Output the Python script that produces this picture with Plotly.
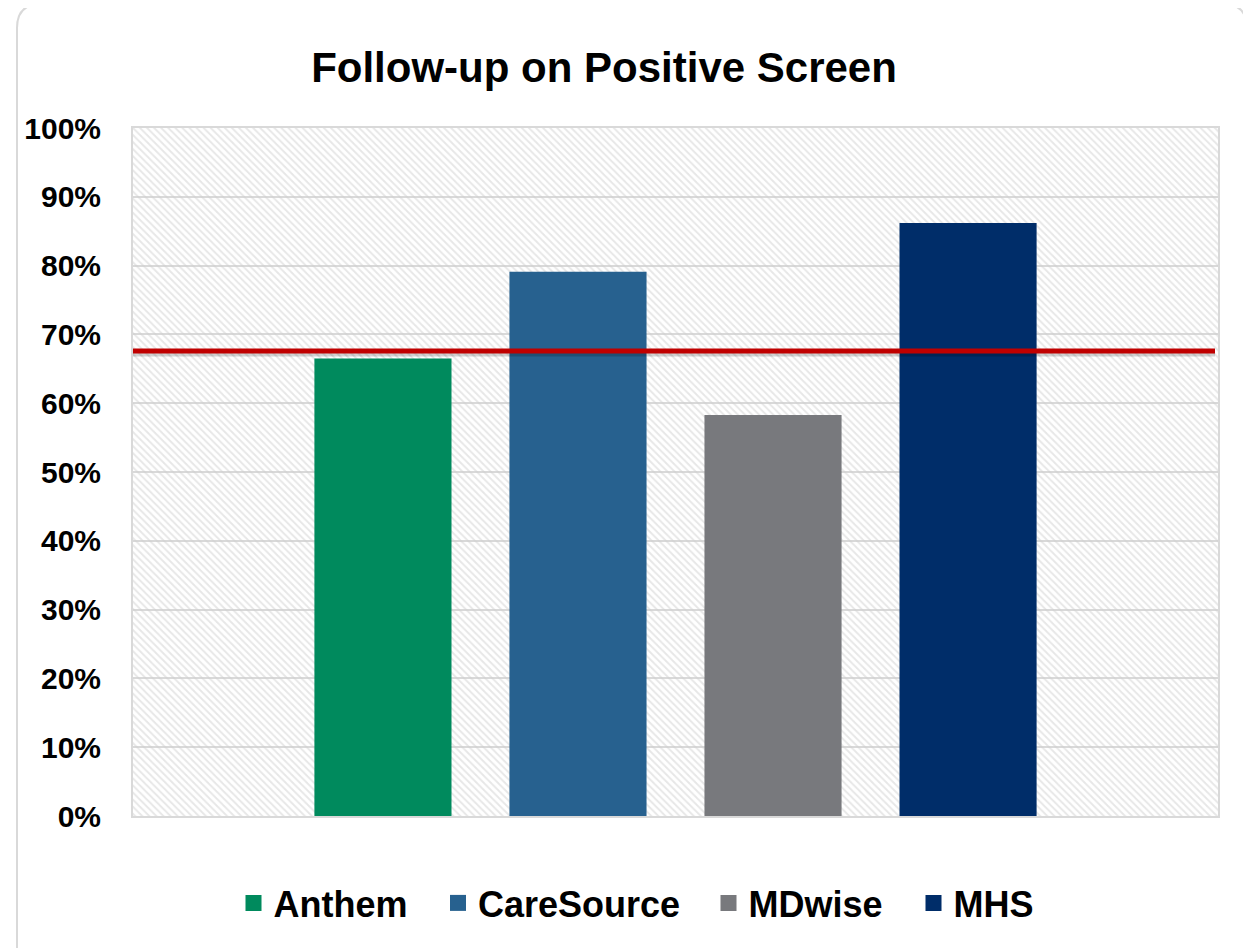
import plotly.graph_objects as go

# ---- data ----
categories = ["Anthem", "CareSource", "MDwise", "MHS"]
values = [66.5, 79.1, 58.3, 86.2]           # percent
benchmark = 67.6                             # red reference line, percent
colors = ["#008A5D", "#27618F", "#78797D", "#002D69"]
tick_vals = [0, 10, 20, 30, 40, 50, 60, 70, 80, 90, 100]
tick_text = [f"{v}%" for v in tick_vals]
group_label = ["Follow-up on Positive Screen"]
title_text = "Follow-up on Positive Screen"

OFF = 8  # page body margin
W, H = 1251 - OFF, 948 - OFF
ML, MR, MT, MB = 133 - OFF, 33, 128 - OFF, 132
PW, PH = W - ML - MR, H - MT - MB

FONT = "Liberation Sans, Arial, sans-serif"

def px2paper_x(px):
    return (px - OFF - ML) / PW

def px2paper_y(py):
    return (H - MB - (py - OFF)) / PH

fig = go.Figure()

# hatched plot-area background (base subplot)
fig.add_trace(go.Bar(
    x=[0.5], y=[tick_vals[-1]], width=[1], xaxis="x", yaxis="y",
    marker=dict(color="rgba(0,0,0,0)", line=dict(width=0),
                pattern=dict(shape="\\", fgcolor="#cfcfcf", bgcolor="rgba(0,0,0,0)",
                             size=5, solidity=0.38, fillmode="overlay")),
    showlegend=False, hoverinfo="skip"))

# series bars on overlaid axis
legend_ids = ["legend", "legend2", "legend3", "legend4"]
for name, v, c in zip(categories, values, colors):
    fig.add_trace(go.Bar(
        x=group_label, y=[v], name=name, xaxis="x2", yaxis="y",
        marker=dict(color=c, line=dict(width=0)), showlegend=False,
        legendgroup=name))

# legend entries (larger square swatches), one legend per entry
for name, c, lid in zip(categories, colors, legend_ids):
    fig.add_trace(go.Scatter(
        x=[None], y=[None], mode="markers", name=name, legend=lid,
        legendgroup=name, xaxis="x2", yaxis="y",
        marker=dict(symbol="square", size=16, color=c, line=dict(width=0))))

# rounded chart border
x0, x1 = px2paper_x(17), px2paper_x(1247)
y0, y1 = px2paper_y(990), px2paper_y(4)
rx, ry = 24 / PW, 24 / PH
path = (f"M {x0},{y0} L {x0},{y1-ry} Q {x0},{y1} {x0+rx},{y1} "
        f"L {x1-rx},{y1} Q {x1},{y1} {x1},{y1-ry} L {x1},{y0}")
shapes = [
    dict(type="path", path=path, xref="paper", yref="paper",
         line=dict(color="#d9d9d9", width=2), layer="below"),
    # shadow of the benchmark line
    dict(type="line", xref="paper", x0=0, x1=px2paper_x(1215), yref="y",
         ysizemode="pixel", yanchor=benchmark, y0=-3, y1=-3,
         line=dict(color="rgba(0,0,0,0.18)", width=5)),
    dict(type="line", xref="paper", x0=0, x1=px2paper_x(1215), yref="y",
         y0=benchmark, y1=benchmark, line=dict(color="#C00000", width=5)),
]

swatch_centers_px = [253.5, 458, 728.5, 933.5]
legend_style = dict(font=dict(family=FONT, size=36, color="black", weight="bold"),
                    itemclick=False, itemdoubleclick=False,
                    bgcolor="rgba(0,0,0,0)", borderwidth=0,
                    orientation="h", yanchor="middle", y=px2paper_y(903),
                    xanchor="left")
legends = {}
for lid, cx in zip(legend_ids, swatch_centers_px):
    legends[lid] = dict(legend_style, x=px2paper_x(cx - 20))

fig.update_layout(
    width=W, height=H,
    margin=dict(l=ML, r=MR, t=MT, b=MB),
    paper_bgcolor="white", plot_bgcolor="white",
    barmode="group", bargap=0.281, bargroupgap=0.297,
    title=dict(text=title_text, xref="container", yref="container",
               x=(604 - OFF) / W, y=1 - (67 - OFF) / H, xanchor="center", yanchor="middle",
               font=dict(family=FONT, size=42, color="black", weight="bold")),
    xaxis=dict(range=[0, 1], showticklabels=False, showgrid=False, zeroline=False,
               showline=True, linecolor="#d9d9d9", linewidth=2, mirror=True, ticks=""),
    xaxis2=dict(type="category", overlaying="x", visible=False,
                range=[-0.5, 0.5]),
    yaxis=dict(range=[0, 100], tickvals=tick_vals, ticktext=tick_text,
               showgrid=True, gridcolor="#d9d9d9", gridwidth=2, zeroline=False,
               showline=True, linecolor="#d9d9d9", linewidth=2, mirror=True,
               ticks="", ticklabelstandoff=24,
               tickfont=dict(family=FONT, size=30, color="black", weight="bold")),
    shapes=shapes,
    showlegend=True,
    **legends,
)

fig.write_html("out.html")
